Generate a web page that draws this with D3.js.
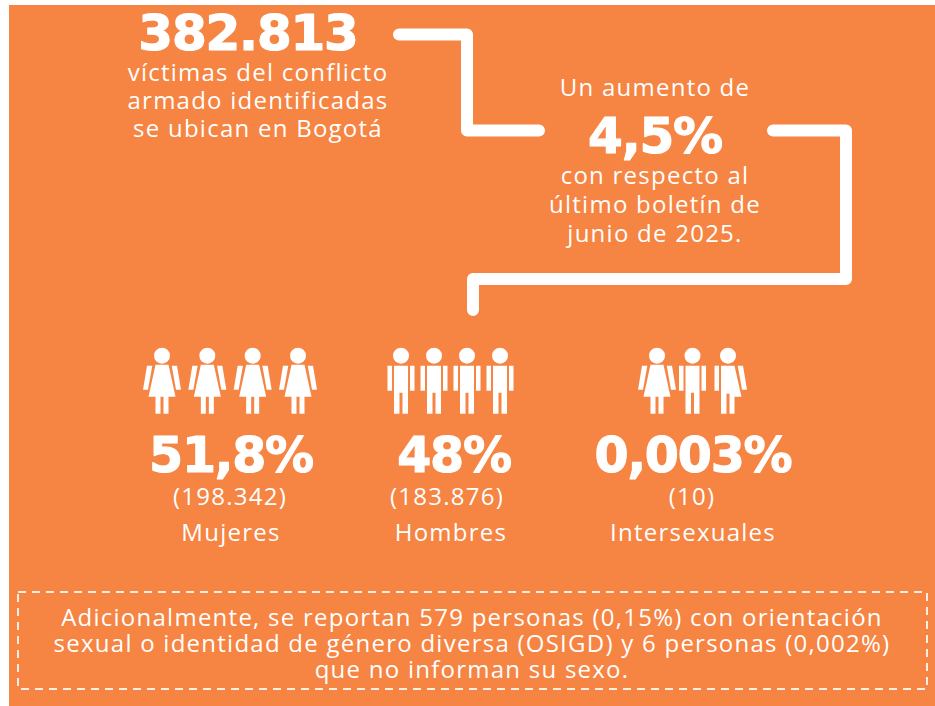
<!DOCTYPE html>
<html>
<head>
<meta charset="utf-8">
<script src="https://cdn.jsdelivr.net/npm/d3@7"></script>
<style>
  html, body { margin: 0; padding: 0; background: #fff; }
  svg { display: block; }
  text { fill: #fff; text-anchor: middle; }
  .big { font-family: "DejaVu Sans", sans-serif; font-weight: 700; stroke: #fff; stroke-width: 1.2px; stroke-linejoin: round; letter-spacing: -1.2px; }
  .small { font-family: "Open Sans", sans-serif; font-weight: 400; letter-spacing: 1.25px; }
</style>
</head>
<body>
<svg id="chart" width="935" height="706"></svg>
<script>
// values
const totalVictims = '382.813';
const totalLines = ['víctimas del conflicto', 'armado identificadas', 'se ubican en Bogotá'];
const increaseBefore = 'Un aumento de';
const increaseValue = '4,5%';
const increaseLines = ['con respecto al', 'último boletín de', 'junio de 2025.'];

const groupNames = ['Mujeres', 'Hombres', 'Intersexuales'];
const groupShares = ['51,8%', '48%', '0,003%'];
const groupCounts = ['(198.342)', '(183.876)', '(10)'];
const groupIcons = [
    ['woman', 'woman', 'woman', 'woman'],
    ['man', 'man', 'man', 'man'],
    ['woman', 'man', 'mixed']
];
const noteLines = [
    'Adicionalmente, se reportan 579 personas (0,15%) con orientación',
    'sexual o identidad de género diversa (OSIGD) y 6 personas (0,002%)',
    'que no informan su sexo.'
];

const svg = d3.select('#chart');
const orange = '#f68442';

svg.append('rect')
    .attr('x', 9).attr('y', 5)
    .attr('width', 926).attr('height', 701)
    .attr('fill', orange);

// connectors
const line = d3.line();
const connectors = [
    [[399, 34.5], [467, 34.5], [467, 130.5], [539, 130.5]],
    [[773, 130.5], [846, 130.5], [846, 279], [473, 279], [473, 310]]
];
svg.selectAll('path.connector')
    .data(connectors)
    .enter()
    .append('path')
    .attr('class', 'connector')
    .attr('d', line)
    .attr('fill', 'none')
    .attr('stroke', '#fff')
    .attr('stroke-width', 12)
    .attr('stroke-linecap', 'round')
    .attr('stroke-linejoin', 'round');

function addLines(lines, x, y0, step, size) {
    svg.append('g')
        .selectAll('text')
        .data(lines)
        .enter()
        .append('text')
        .attr('class', 'small')
        .attr('x', x)
        .attr('y', (d, i) => y0 + i * step)
        .attr('font-size', size)
        .text(d => d);
}

function addBig(label, x, y, size) {
    svg.append('text')
        .attr('class', 'big')
        .attr('x', x)
        .attr('y', y)
        .attr('font-size', size)
        .text(label);
}

// headline blocks
addBig(totalVictims, 248, 50, 50);
addLines(totalLines, 258, 81, 28, 24);
addLines([increaseBefore], 655, 96, 28, 24);
addBig(increaseValue, 655, 153, 50);
addLines(increaseLines, 655, 184, 29, 24);

// people icons, head centre at 0,0
const armLeft = 'M-15,10H-9.7L-14,34H-19Z';
const armRight = 'M15,10H9.7L14,34H19Z';
const armsStraight = 'M-13.5,10H-9V35H-13.5Z M9,10H13.5V35H9Z';
const shapes = {
    woman: `M-6.5,9H6.5L13.5,41H-13.5Z M-6.5,41H-1.5V58H-6.5Z M1.5,41H6.5V58H1.5Z ${armLeft} ${armRight}`,
    man: `M-7,10H7V37H-7Z M-7,37H-1.5V58H-7Z M1.5,37H7V58H1.5Z ${armsStraight}`,
    mixed: `M-7,10H6.5L13.5,41H6.5V58H1.5V38H-1.5V58H-7Z M-13.5,10H-9V35H-13.5Z ${armRight}`
};

const iconRanges = [[162, 298], [401, 500], [657, 728]];
const headY = 355.7;

const groups = svg.selectAll('g.people')
    .data(groupIcons)
    .enter()
    .append('g')
    .attr('class', 'people');

groups.each(function(icons, i) {
    const x = d3.scalePoint()
        .domain(d3.range(icons.length))
        .range(iconRanges[i]);

    const icon = d3.select(this)
        .selectAll('g')
        .data(icons)
        .enter()
        .append('g')
        .attr('transform', (d, j) => `translate(${x(j)},${headY})`);

    icon.append('circle').attr('r', 8).attr('fill', '#fff');
    icon.append('path').attr('d', d => shapes[d]).attr('fill', '#fff');
});

// group labels
const shareX = [231, 454, 693];
const countX = [230, 447, 692];
const nameX = [231, 451, 693];
groupNames.forEach((name, i) => {
    addBig(groupShares[i], shareX[i], 472, 49);
    addLines([groupCounts[i]], countX[i], 505, 28, 24);
    addLines([name], nameX[i], 541, 28, 24);
});

// note box
svg.append('rect')
    .attr('x', 18).attr('y', 592)
    .attr('width', 909).attr('height', 97)
    .attr('fill', 'none')
    .attr('stroke', '#fff')
    .attr('stroke-opacity', 0.85)
    .attr('stroke-width', 2)
    .attr('stroke-dasharray', '8,6');

addLines(noteLines, 472, 626, 26, 24);
</script>
</body>
</html>
